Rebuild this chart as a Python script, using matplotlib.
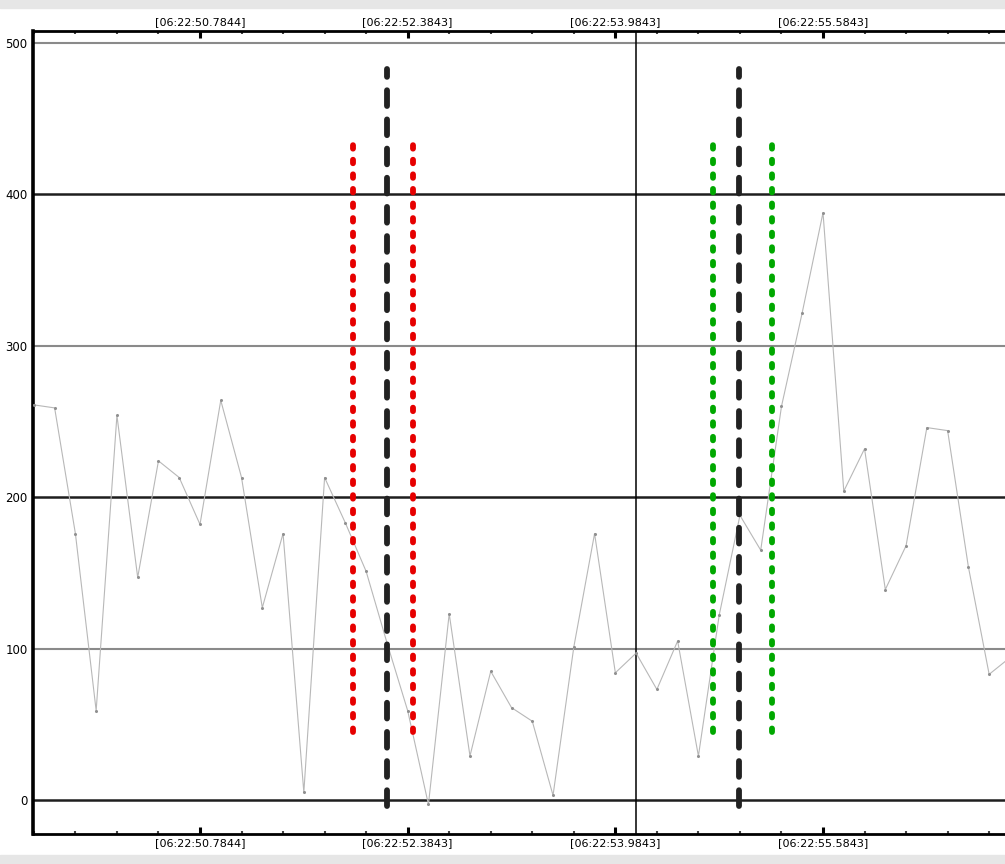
import matplotlib
matplotlib.use("Agg")
import matplotlib.pyplot as plt
from matplotlib.ticker import FixedLocator, FuncFormatter
from matplotlib.patches import Rectangle

# signal samples, seconds after 06:22:00, 0.16 s apart
t_start = 49.5044
t_step = 0.16
values = [261, 259, 176, 59, 254, 147, 224, 213, 182, 264,
          213, 127, 176, 5, 213, 183, 151, 104, 59, -3,
          123, 29, 85, 61, 52, 3, 101, 176, 84, 97,
          73, 105, 29, 122, 188, 165, 260, 322, 388, 204,
          232, 139, 168, 246, 244, 154, 83, 94]
times = [t_start + i * t_step for i in range(len(values))]

# markers
event_times = [52.2228, 54.9382]
red_band = [51.9636, 52.4228]
green_band = [54.7383, 55.1897]
cursor_time = 54.1436

major_ticks = [49.1844, 50.7844, 52.3843, 53.9843, 55.5843, 57.1844]
y_ticks = [0, 100, 200, 300, 400, 500]


def time_label(x, pos):
    return "[06:22:%07.4f]" % x


def main():
    fig = plt.figure(figsize=(10.05, 8.64), dpi=100, facecolor="white")
    # grey bands at the top and bottom of the window
    fig.patches.append(Rectangle((0, 1 - 8 / 864), 1, 8 / 864, transform=fig.transFigure,
                                 color="#e6e6e6", zorder=0))
    fig.patches.append(Rectangle((0, 0), 1, 9 / 864, transform=fig.transFigure,
                                 color="#e6e6e6", zorder=0))

    ax = fig.add_axes([33 / 1005, 30 / 864, 1 - 33 / 1005, 803 / 864])
    ax.set_xlim(49.4978, 56.9865)
    ax.set_ylim(-22.5, 508)

    # horizontal grid
    for y in y_ticks:
        if y % 200 == 0:
            ax.axhline(y, color="#1e1e1e", lw=1.8, zorder=1)
        else:
            ax.axhline(y, color="#8a8a8a", lw=1.5, zorder=1)

    ax.axvline(cursor_time, color="black", lw=1.1, zorder=2)

    ax.plot(times, values, color="#b8b8b8", lw=0.8, marker="o", ms=1.2,
            mfc="#909090", mec="#909090", zorder=3)

    for t in red_band:
        ax.plot([t, t], [45, 435], color="#e60000", lw=4.2, dashes=(0.6, 1.9),
                dash_capstyle="round", zorder=4)
    for t in green_band:
        ax.plot([t, t], [45, 435], color="#00a800", lw=4.2, dashes=(0.6, 1.9),
                dash_capstyle="round", zorder=4)
    for t in event_times:
        ax.plot([t, t], [-4, 483], color="#222222", lw=4.2, dashes=(2.7, 2.3),
                dash_capstyle="round", zorder=5)

    ax.xaxis.set_major_locator(FixedLocator(major_ticks))
    ax.xaxis.set_minor_locator(FixedLocator(
        [major_ticks[0] + k * 0.32 for k in range(30) if k % 5 != 0]))
    ax.xaxis.set_major_formatter(FuncFormatter(time_label))
    ax.tick_params(axis="x", which="both", direction="in", top=True, bottom=True,
                   labeltop=True, labelbottom=True, labelsize=8, pad=3)
    ax.tick_params(axis="x", which="major", length=5, width=2.2)
    ax.tick_params(axis="x", which="minor", length=2, width=1.5, color="#444444")

    ax.set_yticks(y_ticks)
    ax.tick_params(axis="y", length=0, labelsize=8.5, pad=4)

    ax.spines["right"].set_visible(False)
    ax.spines["left"].set_linewidth(2.6)
    ax.spines["top"].set_linewidth(2.0)
    ax.spines["bottom"].set_linewidth(2.0)

    fig.savefig("out.png", dpi=100, facecolor=fig.get_facecolor())


if __name__ == "__main__":
    main()
